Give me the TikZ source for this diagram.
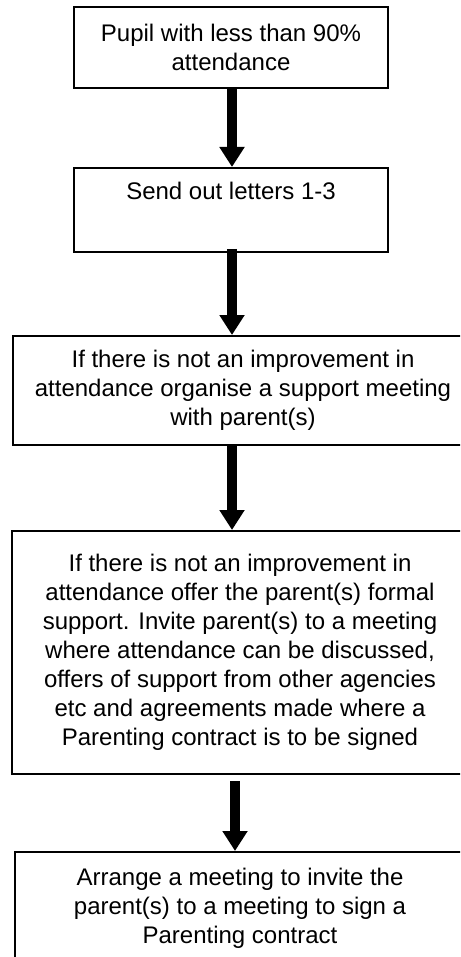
\documentclass[tikz,border=0pt]{standalone}
\usepackage{fontspec}
\setmainfont{Liberation Sans}
\usetikzlibrary{arrows.meta}

\begin{document}
\begin{tikzpicture}[x=1pt, y=-1pt,
    box/.style={draw, line width=2pt, align=center, inner sep=0pt,
      font=\fontsize{24}{29}\selectfont},
    flow/.style={line width=10pt, -{Triangle[length=20pt, width=24pt]}}]
  \useasboundingbox (0,0) rectangle (460,957);
  \clip (0,0) rectangle (460,957);
  \coordinate (spine) at (232,0);
  \node[box, minimum width=314pt, minimum height=81pt] (pupil) at (231,47.5)
    {Pupil with less than 90\%\\attendance};
  \node[box, minimum width=314pt, text height=32pt, text depth=52pt] (letters) at (231,210)
    {Send out letters 1-3};
  \node[box, minimum width=460pt, minimum height=109pt] (meeting) at (243,390.5)
    {If there is not an improvement in\\
     attendance organise a support meeting\\
     with parent(s)};
  \node[box, minimum width=456pt, minimum height=243pt] (formal) at (240,652.5)
    {If there is not an improvement in\\
     attendance offer the parent(s) formal\\
     support. Invite parent(s) to a meeting\\
     where attendance can be discussed,\\
     offers of support from other agencies\\
     etc and agreements made where a\\
     Parenting contract is to be signed};
  \node[box, minimum width=450pt, minimum height=112pt] (contract) at (240,908)
    {Arrange a meeting to invite the\\
     parent(s) to a meeting to sign a\\
     Parenting contract};
  \draw[flow] (pupil.south -| spine) -- (letters.north -| spine);
  \draw[flow, shorten <=-4pt] (letters.south -| spine) -- (meeting.north -| spine);
  \draw[flow] (meeting.south -| spine) -- (formal.north -| spine);
  \draw[flow, shorten <=6pt] ([xshift=3pt]formal.south -| spine) -- ([xshift=3pt]contract.north -| spine);
\end{tikzpicture}
\end{document}
